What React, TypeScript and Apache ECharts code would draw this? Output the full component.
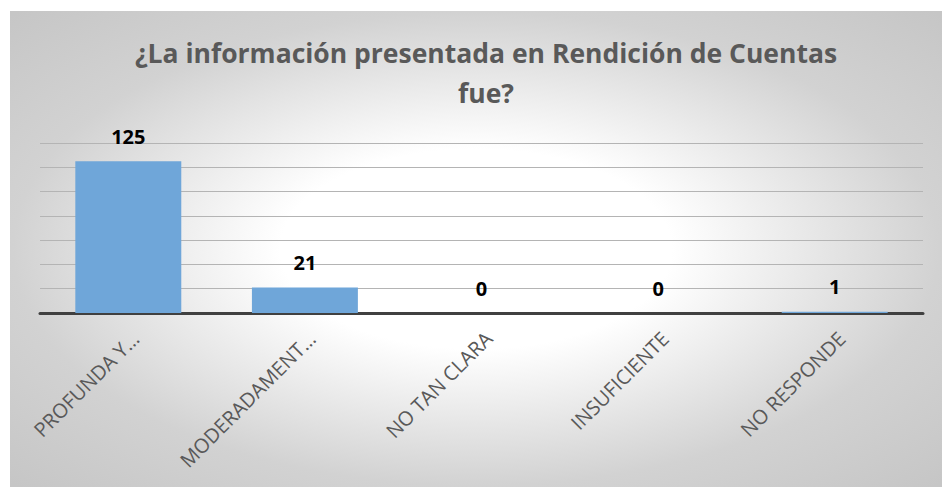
import React, { useEffect, useRef } from "react";
import * as echarts from "echarts";

const TITLE = "¿La información presentada en Rendición de Cuentas\nfue?";
const categories = ["PROFUNDA Y…", "MODERADAMENT…", "NO TAN CLARA", "INSUFICIENTE", "NO RESPONDE"];
const values = [125, 21, 0, 0, 1];
const yMin = 0;
const yMax = 140;
const yInterval = 20;

const W = 932;
const H = 476;

export default function App() {
  const ref = useRef<HTMLDivElement>(null);
  useEffect(() => {
    if (!ref.current) return;
    const chart = echarts.init(ref.current, null, { renderer: "svg" });
    chart.setOption({
      animation: false,
      graphic: [
        {
          type: "rect",
          z: -10,
          silent: true,
          x: 0,
          y: 0,
          scaleX: W / H,
          shape: { x: 0, y: 0, width: H, height: H },
          style: {
            fill: new echarts.graphic.RadialGradient(0.5, 0.5, 0.7, [
              { offset: 0, color: "#ffffff" },
              { offset: 0.3, color: "#ffffff" },
              { offset: 0.71, color: "#d2d2d2" },
              { offset: 1, color: "#c6c6c6" },
            ]),
          },
        },
      ],
      title: {
        text: TITLE,
        left: 471,
        top: 17,
        textAlign: "center",
        textStyle: {
          fontFamily: "Open Sans",
          fontWeight: "bold",
          fontSize: 26.5,
          color: "#595959",
          lineHeight: 40,
        },
      },
      grid: { left: 30, right: 19, top: 132, bottom: 174, containLabel: false },
      xAxis: {
        type: "category",
        data: categories,
        axisTick: { show: false },
        axisLine: { show: true, lineStyle: { color: "#404040", width: 3 } },
        axisLabel: {
          interval: 0,
          rotate: 45,
          align: "right",
          verticalAlign: "top",
          margin: 15,
          fontFamily: "Open Sans",
          fontSize: 20,
          color: "#595959",
        },
      },
      yAxis: {
        type: "value",
        min: yMin,
        max: yMax,
        interval: yInterval,
        axisLabel: { show: false },
        axisLine: { show: false },
        axisTick: { show: false },
        splitLine: { show: true, lineStyle: { color: "#b4b4b4", width: 1 } },
      },
      series: [
        {
          type: "bar",
          data: values,
          barCategoryGap: "40%",
          itemStyle: {
            color: "#6FA6D9",
          },
          label: {
            show: true,
            position: "top",
            distance: 15,
            fontFamily: "Open Sans",
            fontWeight: "bold",
            fontSize: 20,
            color: "#000000",
          },
        },
      ],
    });
    return () => chart.dispose();
  }, []);
  return (
    <div
      ref={ref}
      style={{ position: "absolute", left: 10, top: 11, width: W, height: H }}
    />
  );
}
